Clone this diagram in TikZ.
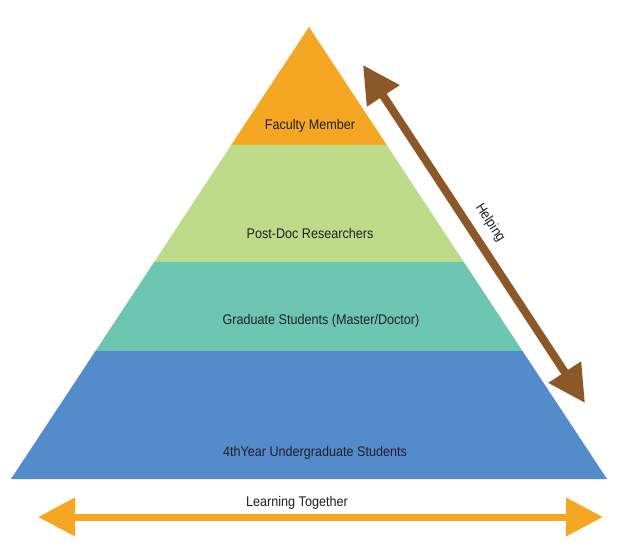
\documentclass[tikz,border=0pt]{standalone}
\usepackage{fontspec}
\setmainfont[FakeStretch=0.9]{Liberation Sans}
\usetikzlibrary{arrows.meta}
\definecolor{layerA}{RGB}{245,167,35}
\definecolor{layerB}{RGB}{190,219,138}
\definecolor{layerC}{RGB}{108,198,177}
\definecolor{layerD}{RGB}{84,139,203}
\definecolor{brownarrow}{RGB}{140,88,40}
\definecolor{txt}{RGB}{30,30,35}
\tikzset{
  lbl/.style={font=\fontsize{14}{16}\selectfont, text=txt, inner sep=0pt},
  bigarrow/.style={line width=#1, {Triangle[length=37pt,width=37pt]}-{Triangle[length=37pt,width=37pt]}},
}
\begin{document}
\begin{tikzpicture}[x=1pt,y=-1pt]
\useasboundingbox (0,0) rectangle (621,553);
% pyramid corner coordinates
\coordinate (apex) at (309,27);
\coordinate (aL) at (231.2,145); \coordinate (aR) at (386.8,145);
\coordinate (bL) at (154.2,262); \coordinate (bR) at (463.8,262);
\coordinate (cL) at (95.5,351);  \coordinate (cR) at (522.5,351);
\coordinate (dL) at (11,479);    \coordinate (dR) at (607,479);
\fill[layerA] (apex) -- (aR) -- (aL) -- cycle;
\fill[layerB] (aL) -- (aR) -- (bR) -- (bL) -- cycle;
\fill[layerC] (bL) -- (bR) -- (cR) -- (cL) -- cycle;
\fill[layerD] (cL) -- (cR) -- (dR) -- (dL) -- cycle;
\node[lbl] (faculty) at (310,126) {Faculty Member};
\node[lbl] (postdoc) at (310,233) {Post-Doc Researchers};
\node[lbl] (grad) at (321,321) {Graduate Students (Master/Doctor)};
\node[lbl] (ug) at (315,453) {4thYear Undergraduate Students};
% helping arrow
\coordinate (hTop) at (363,65);
\coordinate (hBot) at (585,403);
\draw[bigarrow=8pt, brownarrow] (hTop) -- (hBot);
\node[lbl, rotate=-56.7] (helping) at (490,223) {Helping};
% learning together arrow
\coordinate (lL) at (38,517);
\coordinate (lR) at (603,517);
\draw[bigarrow=7pt, layerA] (lL) -- (lR);
\node[lbl] (learn) at (297,503) {Learning Together};
\end{tikzpicture}
\end{document}
